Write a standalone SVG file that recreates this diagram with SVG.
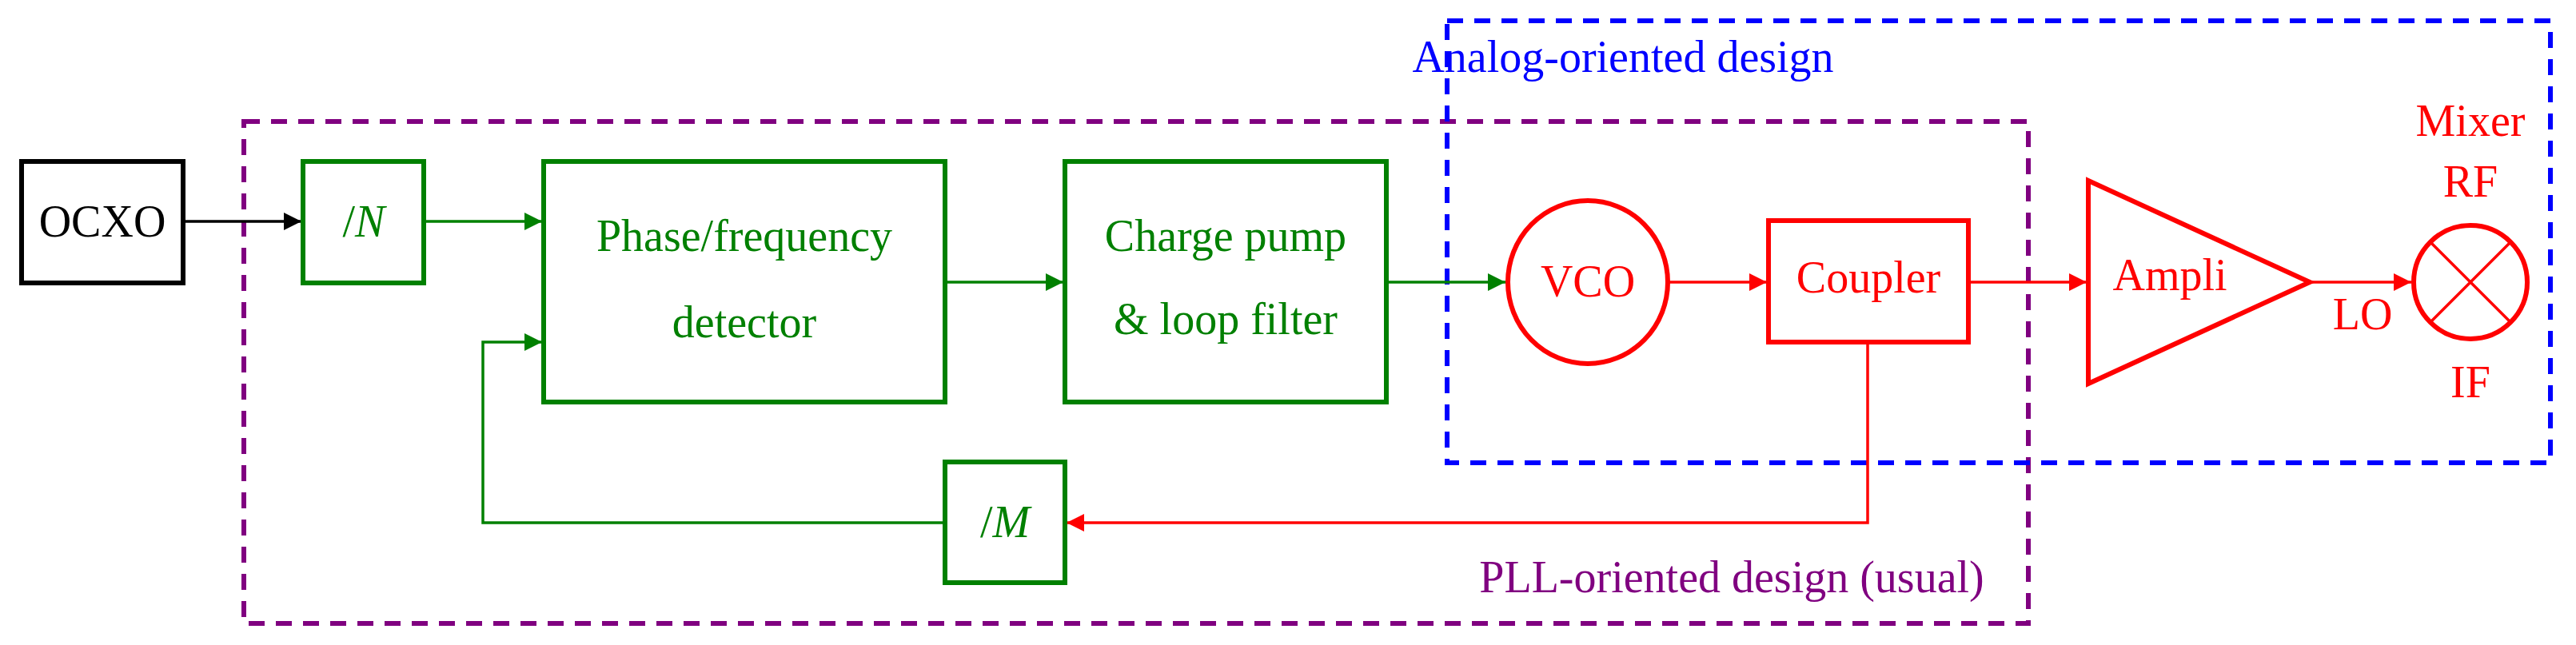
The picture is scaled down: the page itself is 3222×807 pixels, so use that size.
<svg xmlns="http://www.w3.org/2000/svg" width="3222" height="807" viewBox="0 0 3222 807">
<style>
text{font-family:"Liberation Serif",serif;font-size:56px;text-anchor:middle}
.g{stroke:#008000;fill:none}
.r{stroke:#ff0000;fill:none}
.box{stroke-width:6}
.ln{stroke-width:3.5}
.it{font-style:italic}
</style>
<defs>
<marker id="ak" markerUnits="userSpaceOnUse" markerWidth="24" markerHeight="24" refX="22" refY="11" orient="auto"><path d="M0,0 L22,11 L0,22z" fill="#000"/></marker>
<marker id="ag" markerUnits="userSpaceOnUse" markerWidth="24" markerHeight="24" refX="22" refY="11" orient="auto"><path d="M0,0 L22,11 L0,22z" fill="#008000"/></marker>
<marker id="ar" markerUnits="userSpaceOnUse" markerWidth="24" markerHeight="24" refX="22" refY="11" orient="auto"><path d="M0,0 L22,11 L0,22z" fill="#ff0000"/></marker>
</defs>
<g id="regions" fill="none" stroke-width="6" stroke-dasharray="20 14">
<rect id="pll-region" x="305" y="152" width="2232" height="628" stroke="#800080"/>
<rect id="analog-region" x="1810" y="26" width="1380" height="553" stroke="#0000ff"/>
</g>
<text x="2030" y="90" fill="#0000ff">Analog-oriented design</text>
<text x="2166" y="741" fill="#800080">PLL-oriented design (usual)</text>
<g id="connectors">
<path d="M229,277 H377" stroke="#000" stroke-width="3.5" marker-end="url(#ak)"/>
<path class="g ln" d="M530,277 H678" marker-end="url(#ag)"/>
<path class="g ln" d="M1182,353 H1330" marker-end="url(#ag)"/>
<path class="g ln" d="M1734,353 H1883" marker-end="url(#ag)"/>
<path class="g ln" d="M1182,654 H604 V428 H678" marker-end="url(#ag)"/>
<path class="r ln" d="M2086,353 H2210" marker-end="url(#ar)"/>
<path class="r ln" d="M2462,353 H2610" marker-end="url(#ar)"/>
<path class="r ln" d="M2889,353 H3016" marker-end="url(#ar)"/>
<path class="r ln" d="M2336,428 V654 H1334" marker-end="url(#ar)"/>
</g>
<g id="ocxo"><rect x="27" y="202" width="202" height="152" fill="none" stroke="#000" stroke-width="6"/><text x="128" y="296">OCXO</text></g>
<g id="divN"><rect class="g box" x="379" y="202" width="151" height="152"/><text x="455" y="296" fill="#008000">/<tspan class="it">N</tspan></text></g>
<g id="pfd"><rect class="g box" x="680" y="202" width="502" height="301"/><text x="931" y="314" fill="#008000">Phase/frequency</text><text x="931" y="422" fill="#008000">detector</text></g>
<g id="cp"><rect class="g box" x="1332" y="202" width="402" height="301"/><text x="1533" y="314" fill="#008000">Charge pump</text><text x="1533" y="418" fill="#008000">&amp; loop filter</text></g>
<g id="divM"><rect class="g box" x="1182" y="578" width="150" height="151"/><text x="1257" y="672" fill="#008000">/<tspan class="it">M</tspan></text></g>
<g id="vco"><ellipse class="r box" cx="1986" cy="353" rx="100" ry="102"/><text x="1986" y="371" fill="#ff0000">VCO</text></g>
<g id="coupler"><rect class="r box" x="2212" y="276" width="250" height="152"/><text x="2337" y="366" fill="#ff0000">Coupler</text></g>
<g id="ampli"><path class="r box" d="M2612,226 L2889,353 L2612,480z"/><text x="2714" y="363" fill="#ff0000">Ampli</text></g>
<g id="mixer"><circle class="r box" cx="3090" cy="353" r="71"/><path class="r ln" d="M3040,303 L3140,403 M3140,303 L3040,403"/><text x="3090" y="170" fill="#ff0000">Mixer</text><text x="3090" y="246" fill="#ff0000">RF</text><text x="3090" y="497" fill="#ff0000">IF</text><text x="2955" y="412" fill="#ff0000">LO</text></g>
</svg>
